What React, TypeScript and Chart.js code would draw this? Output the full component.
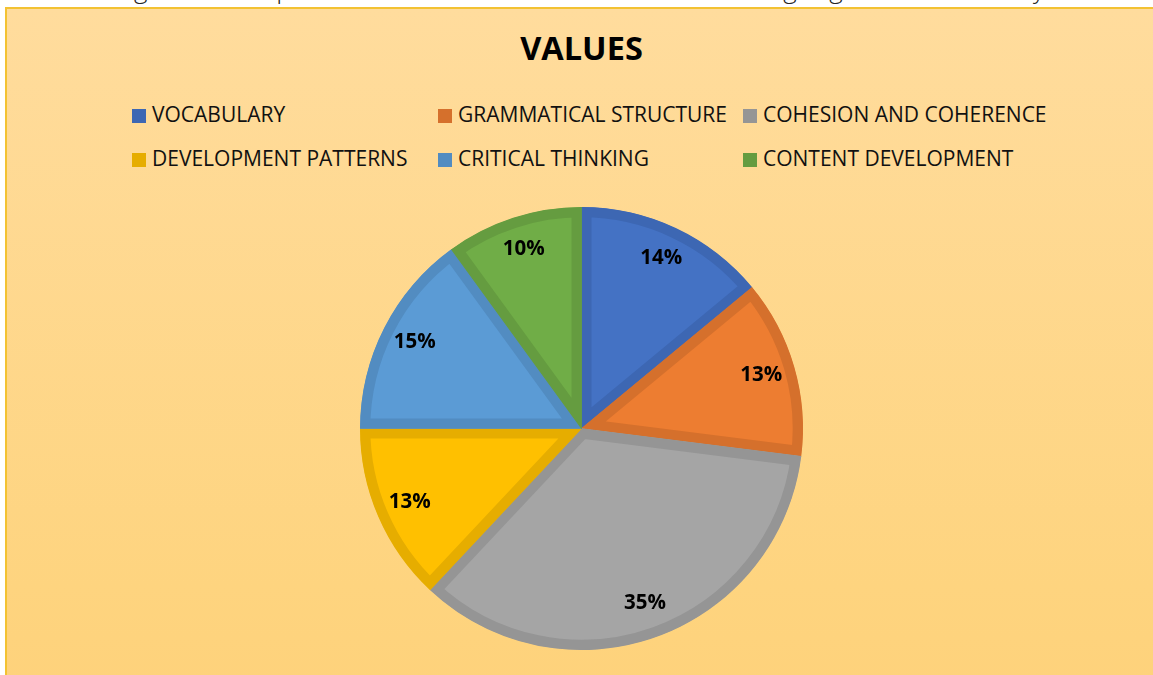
import React, { useEffect, useRef } from "react";
import { Chart, registerables } from "chart.js";

Chart.register(...registerables);

const captionText = "Figure 3: Comparison of the Feedback Indicators in Writing Argumentative Essay";
const chartTitle = "VALUES";
const categories = [
  "VOCABULARY",
  "GRAMMATICAL STRUCTURE",
  "COHESION AND COHERENCE",
  "DEVELOPMENT PATTERNS",
  "CRITICAL THINKING",
  "CONTENT DEVELOPMENT",
];
const values = [14, 13, 35, 13, 15, 10];
const fillColors = ["#4472C4", "#ED7D31", "#A5A5A5", "#FFC000", "#5B9BD5", "#70AD47"];
const borderColors = ["#3D67B3", "#D5702C", "#959595", "#E6AD00", "#528CC1", "#659C40"];

const FONT = "'Open Sans', 'DejaVu Sans', sans-serif";

const pctLabelPlugin = {
  id: "pctLabels",
  afterDatasetsDraw(chart: any) {
    const ctx = chart.ctx;
    const meta = chart.getDatasetMeta(0);
    const total = values.reduce((a, b) => a + b, 0);
    ctx.save();
    ctx.font = `bold 20.5px ${FONT}`;
    ctx.fillStyle = "#000000";
    ctx.textAlign = "center";
    ctx.textBaseline = "middle";
    meta.data.forEach((arc: any, i: number) => {
      const { x, y, startAngle, endAngle, outerRadius } = arc.getProps(
        ["x", "y", "startAngle", "endAngle", "outerRadius"],
        true
      );
      const mid = (startAngle + endAngle) / 2;
      const r = outerRadius * 0.845;
      ctx.fillText(
        Math.round((values[i] / total) * 100) + "%",
        x + Math.cos(mid) * r,
        y + Math.sin(mid) * r - 1
      );
    });
    ctx.restore();
  },
};

const legendCols = [132, 438, 743];
const legendRowsTop = [109, 153];

export default function App() {
  const canvasRef = useRef<HTMLCanvasElement | null>(null);

  useEffect(() => {
    if (!canvasRef.current) return;
    const chart = new Chart(canvasRef.current, {
      type: "pie",
      data: {
        labels: categories,
        datasets: [
          {
            data: values,
            backgroundColor: fillColors,
            borderColor: borderColors,
            borderWidth: 10,
            borderAlign: "inner",
            borderJoinStyle: "miter",
          } as any,
        ],
      },
      options: {
        animation: false,
        responsive: true,
        maintainAspectRatio: false,
        events: [],
        layout: { padding: { top: 207, bottom: 25, left: 360, right: 350 } },
        plugins: {
          legend: { display: false },
          title: { display: false },
          tooltip: { enabled: false },
        },
      },
      plugins: [pctLabelPlugin],
    });
    return () => chart.destroy();
  }, []);

  return (
    <div
      style={{
        position: "fixed",
        left: 0,
        top: 0,
        width: 1153,
        height: 675,
        overflow: "hidden",
        background: "#ffffff",
        fontFamily: FONT,
      }}
    >
      <div
        style={{
          position: "absolute",
          left: 0,
          top: -25,
          width: 1160,
          textAlign: "center",
          fontSize: 26,
          lineHeight: "26px",
          color: "#222",
          whiteSpace: "nowrap",
          fontWeight: 300,
        }}
      >
        {captionText}
      </div>
      <div
        style={{
          position: "absolute",
          left: 5,
          top: 7,
          width: 1160,
          height: 680,
          borderLeft: "2px solid #F3C232",
          borderTop: "2px solid #F3C232",
          background: "linear-gradient(180deg, #FFDC9D 0%, #FED47F 85%, #FED27B 100%)",
        }}
      />
      <div
        style={{
          position: "absolute",
          left: 0,
          top: 32,
          width: 1163,
          textAlign: "center",
          fontSize: 32.5,
          lineHeight: "32.5px",
          fontWeight: 700,
          color: "#000",
        }}
      >
        {chartTitle}
      </div>
      {categories.map((c, i) => {
        const col = i % 3;
        const row = Math.floor(i / 3);
        const x = legendCols[col];
        const y = legendRowsTop[row];
        return (
          <React.Fragment key={c}>
            <div
              style={{
                position: "absolute",
                left: x,
                top: y,
                width: 14,
                height: 14,
                background: borderColors[i],
              }}
            />
            <div
              style={{
                position: "absolute",
                left: x + 20,
                top: y - 5.5,
                fontSize: 21,
                lineHeight: "21px",
                color: "#111",
                whiteSpace: "nowrap",
              }}
            >
              {c}
            </div>
          </React.Fragment>
        );
      })}
      <div style={{ position: "absolute", left: 0, top: 0, width: 1153, height: 675 }}>
        <canvas ref={canvasRef} />
      </div>
    </div>
  );
}
